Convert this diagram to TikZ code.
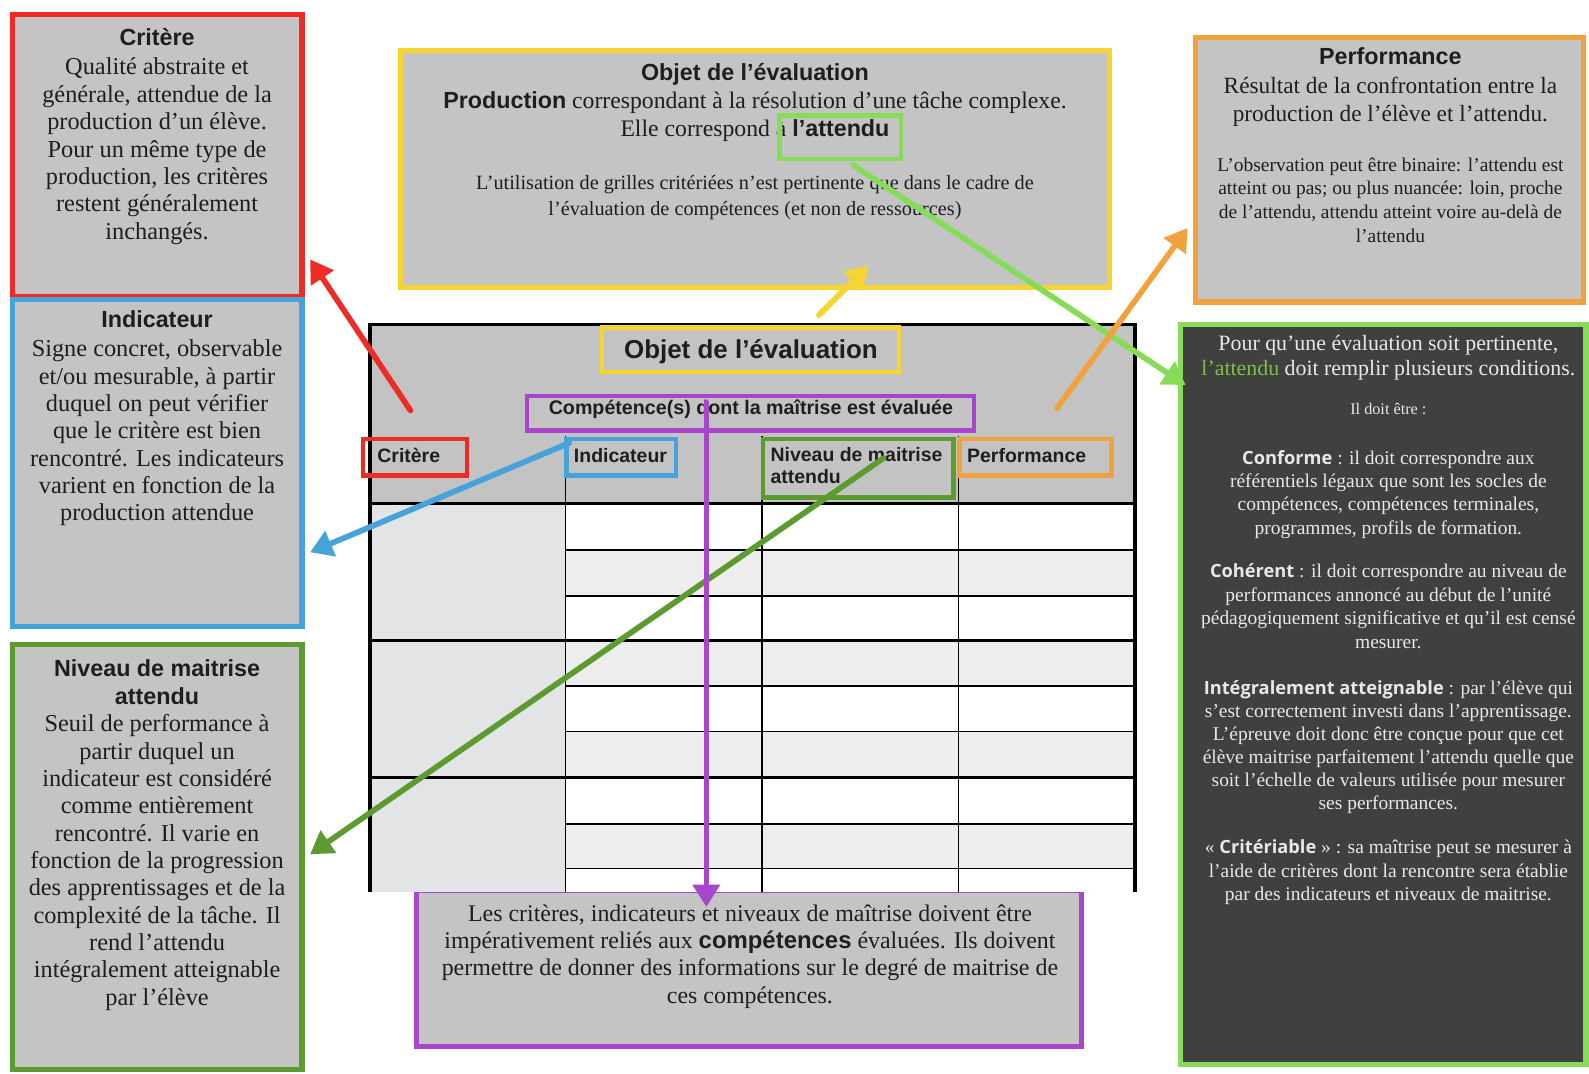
\documentclass[tikz,border=0pt]{standalone}
\usepackage{fontspec}
\setmainfont{Liberation Serif}
\newfontfamily\sansf{Liberation Sans}
\newfontfamily\opensf{Open Sans}
\usetikzlibrary{arrows.meta,fit,calc}
\definecolor{boxgray}{HTML}{C4C4C4}
\definecolor{hdrgray}{HTML}{C3C3C3}
\definecolor{cellgray}{HTML}{EDEDED}
\definecolor{leftgray}{HTML}{E3E4E5}
\definecolor{cred}{HTML}{EE2B24}
\definecolor{cblue}{HTML}{45A3D9}
\definecolor{cdgreen}{HTML}{5C9B2F}
\definecolor{cyellow}{HTML}{F6D432}
\definecolor{corange}{HTML}{F0A23C}
\definecolor{clgreen}{HTML}{86DC58}
\definecolor{cpurple}{HTML}{A745CB}
\definecolor{darkbg}{HTML}{404040}
\definecolor{lighttxt}{HTML}{E8E8E8}
\definecolor{attgreen}{HTML}{7CC142}
\definecolor{txtdark}{HTML}{1E1E1E}
\newcommand\ttlf{\sansf\bfseries\fontsize{11.5}{13.5}\selectfont}
\newcommand\bodyf{\fontsize{12}{13.5}\selectfont}
\newcommand\kwf{\opensf\bfseries\fontsize{9}{11.5}\selectfont}
\tikzset{
  panel/.style={draw=#1, line width=2.5pt, fill=boxgray, inner sep=0pt},
  tag/.style={draw=#1, line width=2.2pt, inner sep=0pt},
  arr/.style={draw=#1, line width=2.8pt, line cap=round, -{Triangle[length=11pt,width=13pt]}},
  txt/.style={anchor=base, align=center, inner sep=0pt, text=txtdark},
  lbl/.style={anchor=base west, inner sep=0pt, text=txtdark, font=\sansf\bfseries\fontsize{9.6}{10.5}\selectfont},
  thick line/.style={line width=1.6pt, draw=black},
  thin line/.style={line width=0.8pt, draw=black}
}
\begin{document}
\begin{tikzpicture}[x=0.5pt,y=-0.5pt]
\useasboundingbox (0,0) rectangle (1568,1059);
\fill[white] (0,0) rectangle (1568,1059);

% ---------- side and top panels ----------
\node[panel=cred, fit={(12,14) (298,293)}] (crit) {};
\node[panel=cblue, fit={(12,296) (298,618)}] (indi) {};
\node[panel=cdgreen, fit={(12,636) (298,1055)}] (nive) {};
\node[panel=cyellow, fit={(395,50) (1095,284)}] (objet) {};
\node[panel=corange, fit={(1180,37) (1563,298)}] (perf) {};
\node[panel=clgreen, fill=darkbg, fit={(1165,320) (1565,1050)}] (cond) {};
\node[panel=cpurple, fit={(411,879) (1067,1033)}] (lien) {};

% ---------- panel texts (anchor = baseline of last line) ----------
\node[txt, font=\bodyf] (critT) at (155,236) {{\ttlf Critère}\\[1pt]
Qualité abstraite et\\ générale, attendue de la\\ production d’un élève.\\
Pour un même type de\\ production, les critères\\ restent généralement\\ inchangés.};

\node[txt, font=\bodyf] (indiT) at (155,514) {{\ttlf Indicateur}\\[1pt]
Signe concret, observable\\ et/ou mesurable, à partir\\ duquel on peut vérifier\\
que le critère est bien\\ rencontré. Les indicateurs\\ varient en fonction de la\\ production attendue};

\node[txt, font=\bodyf] (niveT) at (155,992) {{\ttlf Niveau de maitrise}\\ {\ttlf attendu}\\
Seuil de performance à\\ partir duquel un\\ indicateur est considéré\\ comme entièrement\\
rencontré. Il varie en\\ fonction de la progression\\ des apprentissages et de la\\
complexité de la tâche. Il\\ rend l’attendu\\ intégralement atteignable\\ par l’élève};

\node[txt, font=\fontsize{11.7}{13.8}\selectfont] (objT) at (745,135) {{\ttlf Objet de l’évaluation}\\
{\ttlf Production} correspondant à la résolution d’une tâche complexe.\\
Elle correspond à {\ttlf l’attendu}};
\node[txt, font=\fontsize{10}{13}\selectfont] (objT2) at (745,213) {L’utilisation de grilles critériées n’est pertinente que dans le cadre de\\
l’évaluation de compétences (et non de ressources)};
\node[tag=clgreen, fit={(769,114) (889,157)}] (attbox) {};

\node[txt, font=\fontsize{11.5}{14}\selectfont] (perfT) at (1372,120) {{\ttlf Performance}\\
Résultat de la confrontation entre la\\ production de l’élève et l’attendu.};
\node[txt, font=\fontsize{9.6}{11.7}\selectfont] (perfT2) at (1372,239) {L’observation peut être binaire: l’attendu est\\
atteint ou pas; ou plus nuancée: loin, proche\\ de l’attendu, attendu atteint voire au-delà de\\ l’attendu};

\node[txt, text=lighttxt, font=\fontsize{10.8}{12.5}\selectfont] (c1) at (1370,371) {Pour qu’une évaluation soit pertinente,\\
{\color{attgreen}l’attendu} doit remplir plusieurs conditions.};
\node[txt, text=lighttxt, font=\fontsize{8}{10}\selectfont] (c2) at (1370,409) {Il doit être :};
\node[txt, text=lighttxt, font=\fontsize{9.6}{11.5}\selectfont] (c3) at (1370,527) {{\kwf Conforme} : il doit correspondre aux\\
référentiels légaux que sont les socles de\\ compétences, compétences terminales,\\ programmes, profils de formation.};
\node[txt, text=lighttxt, font=\fontsize{9.6}{11.7}\selectfont] (c4) at (1370,640) {{\kwf Cohérent} : il doit correspondre au niveau de\\
performances annoncé au début de l’unité\\ pédagogiquement significative et qu’il est censé\\ mesurer.};
\node[txt, text=lighttxt, font=\fontsize{9.6}{11.4}\selectfont] (c5) at (1370,799) {{\kwf Intégralement atteignable} : par l’élève qui\\
s’est correctement investi dans l’apprentissage.\\ L’épreuve doit donc être conçue pour que cet\\
élève maitrise parfaitement l’attendu quelle que\\ soit l’échelle de valeurs utilisée pour mesurer\\ ses performances.};
\node[txt, text=lighttxt, font=\fontsize{9.6}{11.7}\selectfont] (c6) at (1370,889) {« {\kwf Critériable} » : sa maîtrise peut se mesurer à\\
l’aide de critères dont la rencontre sera établie\\ par des indicateurs et niveaux de maitrise.};

\node[txt, font=\fontsize{11.8}{13.5}\selectfont] (lienT) at (740,990) {Les critères, indicateurs et niveaux de maîtrise doivent être\\
impérativement reliés aux {\sansf\bfseries compétences} évaluées. Ils doivent\\
permettre de donner des informations sur le degré de maitrise de\\ ces compétences.};

% ---------- table ----------
\fill[hdrgray] (365,320) rectangle (1120,497);
\fill[leftgray] (365,497) rectangle (558,880);
\fill[white] (558,497) rectangle (1120,880);
\foreach \ya/\yb in {543/588, 632/677, 722/767, 813/857}
  \fill[cellgray] (558,\ya) rectangle (1120,\yb);
\foreach \yy in {543,588,677,722,813,857}
  \draw[thin line] (558,\yy) -- (1120,\yy);
\foreach \xx in {558,752,946}
  \draw[thin line] (\xx,430) -- (\xx,880);
\draw[thick line] (365,880) -- (365,320) -- (1120,320) -- (1120,880);
\foreach \yy in {497,632,767}
  \draw[thick line] (365,\yy) -- (1120,\yy);

\node[tag=cyellow, fit={(594,323) (887,367)}] (objtag) {};
\node[anchor=base, inner sep=0pt, text=txtdark, font=\sansf\bfseries\fontsize{12.8}{14}\selectfont] (objlbl) at (741,354) {Objet de l’évaluation};
\node[tag=cpurple, fit={(520,391) (961,425)}] (comptag) {};
\node[anchor=base, inner sep=0pt, text=txtdark, font=\sansf\bfseries\fontsize{9.7}{10.5}\selectfont] (complbl) at (741,409) {Compétence(s) dont la maîtrise est évaluée};
\node[tag=cred, fit={(358,433) (461,469)}] (crtag) {};
\node[lbl] (crlbl) at (372,456) {Critère};
\node[tag=cblue, fit={(559,433) (667,469)}] (intag) {};
\node[lbl] (inlbl) at (566,456) {Indicateur};
\node[tag=cdgreen, fit={(753,433) (941,491)}] (nvtag) {};
\node[lbl, align=left, font=\sansf\bfseries\fontsize{9.6}{10.6}\selectfont] (nvlbl) at (760,477) {Niveau de maitrise\\attendu};
\node[tag=corange, fit={(947,433) (1097,469)}] (pftag) {};
\node[lbl] (pflbl) at (954,456) {Performance};

% ---------- arrows ----------
\coordinate (redS) at (405,405);   \coordinate (redE) at (306,256);
\coordinate (bluS) at (562,437);   \coordinate (bluE) at (306,545);
\coordinate (yelS) at (808,311);   \coordinate (yelE) at (857,262);
\coordinate (lgrS) at (842,163);   \coordinate (lgrE) at (1170,380);
\coordinate (oraS) at (1043,403);  \coordinate (oraE) at (1172,225);
\coordinate (dgrS) at (872,452);   \coordinate (dgrE) at (306,843);
\coordinate (purS) at (697,397);   \coordinate (purE) at (697,895);

\draw[arr=cred] (redS) -- (redE);
\draw[arr=cblue] (bluS) -- (bluE);
\draw[arr=cyellow] (yelS) -- (yelE);
\draw[arr=clgreen] (lgrS) -- (lgrE);
\draw[arr=corange] (oraS) -- (oraE);
\draw[arr=cdgreen] (dgrS) -- (dgrE);
\draw[arr=cpurple] (purS) -- (purE);
\end{tikzpicture}
\end{document}
